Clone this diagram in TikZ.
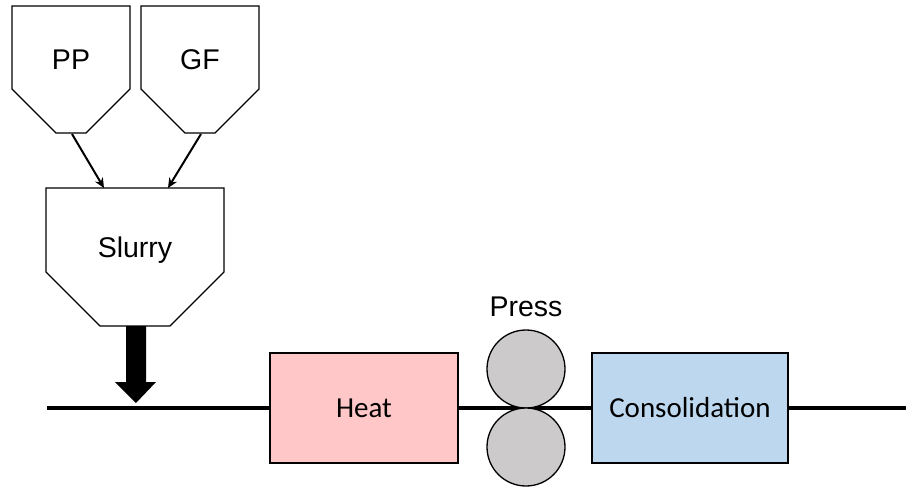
\documentclass[tikz,border=0pt]{standalone}
\usepackage{fontspec}
\setmainfont{Liberation Sans}
\newfontfamily\calib{Carlito}
\usetikzlibrary{arrows.meta}
\definecolor{heatpink}{RGB}{255,199,199}
\definecolor{consblue}{RGB}{189,215,238}
\definecolor{rollgray}{RGB}{204,202,203}
\tikzset{
  hopper/.style={draw=black, line width=1.3pt, fill=white, line join=miter},
  lbl/.style={font=\fontsize{28.5}{32}\selectfont, inner sep=0pt},
  procbox/.style={draw=black, line width=1.3pt, inner sep=0pt, font=\calib\fontsize{29}{32}\selectfont},
  roll/.style={circle, draw=black, line width=1.3pt, fill=rollgray, minimum size=78pt, inner sep=0pt},
  feed/.style={line width=2pt, -{Stealth[length=10pt,width=9pt]}},
  belt/.style={line width=4pt}
}
\begin{document}
\begin{tikzpicture}[x=1pt,y=-1pt]
\useasboundingbox (0,0) rectangle (906,487);
% hoppers
\draw[hopper] (12,6) -- (130,6) -- (130,89) -- (86,133) -- (56,133) -- (12,89) -- cycle;
\draw[hopper] (141,6) -- (259,6) -- (259,89) -- (215,133) -- (185,133) -- (141,89) -- cycle;
\draw[hopper] (46,188) -- (224,188) -- (224,272) -- (170,326) -- (100,326) -- (46,272) -- cycle;
\node[lbl] (pp) at (71,60) {PP};
\node[lbl] (gf) at (200,60) {GF};
\node[lbl] (slurry) at (135,250) {Slurry};
\coordinate (ppout) at (72,134);
\coordinate (gfout) at (201,134);
\coordinate (slin1) at (104,188);
\coordinate (slin2) at (168,188);
\draw[feed] (ppout) -- (slin1);
\draw[feed] (gfout) -- (slin2);
% thick arrow
\coordinate (slout) at (136,326);
\coordinate (drop) at (136,404);
\fill[black] (126,326) -- (146,326) -- (146,382) -- (156,382) -- (136,403) -- (115,382) -- (126,382) -- cycle;
% belt
\coordinate (beltstart) at (47,408);
\coordinate (beltend) at (906,408);
\node[procbox, fill=heatpink, minimum width=188pt, minimum height=110pt] (heat) at (364,408) {Heat};
\node[procbox, fill=consblue, minimum width=196pt, minimum height=110pt] (cons) at (690,408) {Consolidation};
\draw[belt] (beltstart) -- (heat.west);
\draw[belt] (heat.east) -- (cons.west);
\draw[belt] (cons.east) -- (beltend);
\node[roll] (rolltop) at (526,369) {};
\node[roll] (rollbot) at (526,447) {};
\node[lbl] (press) at (526,307) {Press};
\end{tikzpicture}
\end{document}
